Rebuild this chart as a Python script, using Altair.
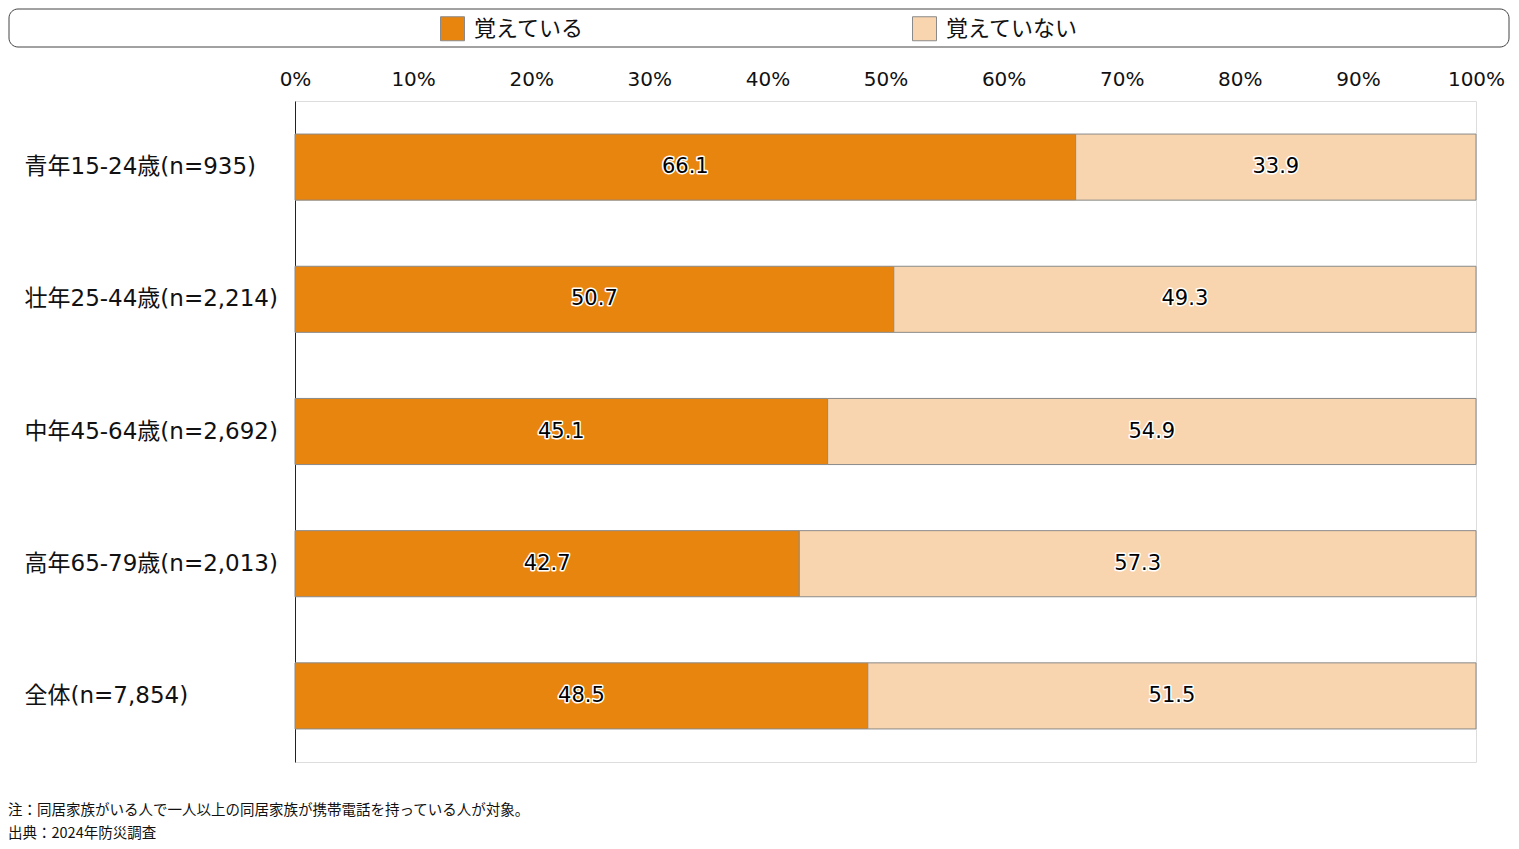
import altair as alt
import pandas as pd

categories = ["青年15-24歳(n=935)", "壮年25-44歳(n=2,214)", "中年45-64歳(n=2,692)",
              "高年65-79歳(n=2,013)", "全体(n=7,854)"]
remember = [66.1, 50.7, 45.1, 42.7, 48.5]
not_remember = [33.9, 49.3, 54.9, 57.3, 51.5]
series = ["覚えている", "覚えていない"]
colors = ["#E8850F", "#F8D5AE"]
notes = ["注：同居家族がいる人で一人以上の同居家族が携帯電話を持っている人が対象。",
         "出典：2024年防災調査"]

FONT = "DejaVu Sans, Noto Sans CJK JP"

rows = []
for c, a, b in zip(categories, remember, not_remember):
    rows.append({"cat": c, "series": series[0], "value": a, "ord": 0})
    rows.append({"cat": c, "series": series[1], "value": b, "ord": 1})
df = pd.DataFrame(rows)

W, H = 1181, 661

y_enc = alt.Y("cat:N", sort=categories, title=None,
              scale=alt.Scale(paddingInner=0.5, paddingOuter=0.25),
              axis=alt.Axis(labelAlign="left", labelPadding=271, labelLimit=300,
                            labelFontSize=23, labelColor="#111", labelFont=FONT,
                            ticks=False, domainColor="#222", domainWidth=1))

x_enc = alt.X("value:Q", stack="zero", title=None,
              scale=alt.Scale(domain=[0, 100], nice=False),
              axis=alt.Axis(orient="top", values=list(range(0, 101, 10)),
                            labelExpr="datum.value + '%'", labelFontSize=20,
                            labelColor="#111", labelFont=FONT, labelPadding=12,
                            labelFlush=False,
                            ticks=False, domain=False, grid=False))

base = alt.Chart(df)

bars = base.mark_bar(stroke="#8a8a8a", strokeWidth=1).encode(
    y=y_enc,
    x=x_enc,
    order=alt.Order("ord:Q"),
    color=alt.Color("series:N", sort=series,
                    scale=alt.Scale(domain=series, range=colors),
                    legend=alt.Legend(orient="none", legendX=145, legendY=-85,
                                      direction="horizontal", title=None,
                                      symbolType="square", symbolSize=576,
                                      symbolStrokeColor="#8a8a8a", symbolStrokeWidth=1,
                                      symbolOpacity=1,
                                      labelFontSize=22, labelFont="Noto Sans CJK JP",
                                      labelColor="#111",
                                      labelOffset=9, columnPadding=325, padding=0,
                                      labelLimit=300)),
)

stacked = base.transform_stack(
    stack="value", groupby=["cat"], as_=["v0", "v1"],
    sort=[alt.SortField("ord", order="ascending")]
).transform_calculate(mid="(datum.v0 + datum.v1) / 2")

halo = stacked.mark_text(fontSize=21, font=FONT, stroke="white", strokeWidth=3,
                         fill="white", strokeJoin="round").encode(
    y=alt.Y("cat:N", sort=categories),
    x=alt.X("mid:Q"),
    text=alt.Text("value:Q", format=".1f"),
)
labels = stacked.mark_text(fontSize=21, font=FONT, fill="#000").encode(
    y=alt.Y("cat:N", sort=categories),
    x=alt.X("mid:Q"),
    text=alt.Text("value:Q", format=".1f"),
)

frame_df = pd.DataFrame({"k": [0]})
frame = alt.Chart(frame_df).mark_rect(fill="transparent", stroke="#444",
                                      strokeWidth=1, cornerRadius=9).encode(
    x=alt.value(-286), x2=alt.value(1214), y=alt.value(-92), y2=alt.value(-54)
)

notes_df = pd.DataFrame({"t": ["\n".join(notes)]})
foot = alt.Chart(notes_df).mark_text(align="left", baseline="alphabetic",
                                     fontSize=14.5, font="Noto Sans CJK JP", color="#111",
                                     lineBreak="\n", lineHeight=23).encode(
    x=alt.value(-287), y=alt.value(714), text="t:N"
)

chart = alt.layer(bars, halo, labels, frame, foot).properties(
    width=W, height=H,
    autosize=alt.AutoSizeParams(type="none"),
    padding={"left": 287, "top": 93, "right": 35, "bottom": 79},
).configure_view(stroke="#999", strokeWidth=1).configure(background="white")

chart.save("out.html", embed_options={"renderer": "svg", "actions": False})
